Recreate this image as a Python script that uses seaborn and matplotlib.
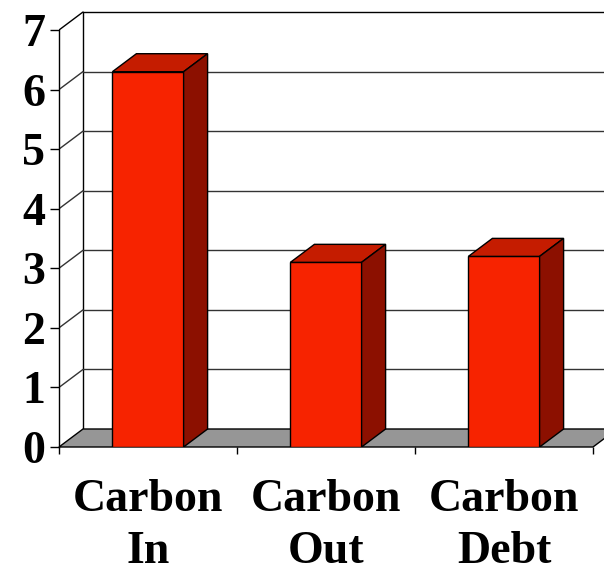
import matplotlib
matplotlib.use('Agg')
import matplotlib.pyplot as plt
import seaborn as sns
import pandas as pd
from matplotlib.patches import Polygon
from matplotlib.lines import Line2D

# ---- data ----
categories = ["Carbon\nIn", "Carbon\nOut", "Carbon\nDebt"]
values = [6.3, 3.1, 3.2]
y_ticks = [0, 1, 2, 3, 4, 5, 6, 7]

# ---- style ----
FRONT = '#F72300'
TOP = '#C51C00'
SIDE = '#8C1000'
FLOOR = '#969696'
GRID = '#333333'

sns.set_style('white')
plt.rcParams['font.family'] = ['Liberation Serif', 'DejaVu Serif']
plt.rcParams['text.color'] = 'black'
plt.rcParams['xtick.color'] = 'black'
plt.rcParams['ytick.color'] = 'black'
plt.rcParams['axes.labelcolor'] = 'black'

W, H = 604, 574
fig = plt.figure(figsize=(W / 100, H / 100), dpi=100)
left_px, bottom_px = 59, 447
unit_x_px = 178.0
unit_y_px = 59.57
ax = fig.add_axes([left_px / W, (H - bottom_px) / H, (W - left_px) / W, bottom_px / H])
ax.set_facecolor('none')

df = pd.DataFrame({'cat': categories, 'val': values})
sns.barplot(data=df, x='cat', y='val', width=0.4, color=FRONT, saturation=1,
            edgecolor='black', linewidth=1, ax=ax, zorder=5)

ax.set_xlim(-0.5, -0.5 + (W - left_px) / unit_x_px)
ax.set_ylim(0, bottom_px / unit_y_px)

dx = 24 / unit_x_px
dy = 18 / unit_y_px
x0w, x1w = -0.5, len(categories) - 0.5
ymax = y_ticks[-1]

bars = [p for p in ax.patches]

# back wall
ax.add_patch(Polygon([(x0w + dx, dy), (x1w + dx + 1, dy), (x1w + dx + 1, ymax + dy), (x0w + dx, ymax + dy)],
                     closed=True, facecolor='white', edgecolor='none', zorder=0))
ax.add_line(Line2D([x0w + dx, x0w + dx], [dy, ymax + dy], color='black', lw=1, zorder=1))
for k in y_ticks[1:]:
    ax.add_line(Line2D([x0w + dx, x1w + dx + 1], [k + dy, k + dy], color=GRID if k < ymax else 'black',
                       lw=1, zorder=1))
    ax.add_line(Line2D([x0w, x0w + dx], [k, k + dy], color=GRID if k < ymax else 'black', lw=1, zorder=1))

# floor
ax.add_patch(Polygon([(x0w, 0), (x1w, 0), (x1w + dx, dy), (x0w + dx, dy)], closed=True,
                     facecolor=FLOOR, edgecolor='black', lw=1, zorder=2, clip_on=False))

# 3D faces of bars
for p in bars:
    bx, bw, bh = p.get_x(), p.get_width(), p.get_height()
    ax.add_patch(Polygon([(bx, bh), (bx + bw, bh), (bx + bw + dx, bh + dy), (bx + dx, bh + dy)],
                         closed=True, facecolor=TOP, edgecolor='black', lw=1, zorder=5))
    ax.add_patch(Polygon([(bx + bw, 0), (bx + bw + dx, dy), (bx + bw + dx, bh + dy), (bx + bw, bh)],
                         closed=True, facecolor=SIDE, edgecolor='black', lw=1, zorder=5))

# axes / spines
for s in ['top', 'right', 'bottom']:
    ax.spines[s].set_visible(False)
ax.spines['left'].set_bounds(0, ymax)
ax.spines['left'].set_color('black')
ax.spines['left'].set_linewidth(1)
ax.spines['left'].set_zorder(3)

ax.set_yticks(y_ticks)
ax.set_yticklabels([str(t) for t in y_ticks], fontsize=33, fontweight='bold', color='black')
ax.tick_params(axis='y', left=True, direction='out', length=6.5, width=1, pad=3.5, color='black')

ax.set_xticks(range(len(categories)))
ax.set_xticklabels(categories, fontsize=33, fontweight='bold', linespacing=1.3, color='black')
ax.set_xticks([x0w + i for i in range(len(categories) + 1)], minor=True)
ax.tick_params(axis='x', which='major', bottom=False, length=0, pad=23)
ax.tick_params(axis='x', which='minor', bottom=True, direction='out', length=5, width=1, color='black')
ax.set_xlabel('')
ax.set_ylabel('')

fig.savefig('out.png', dpi=100)
